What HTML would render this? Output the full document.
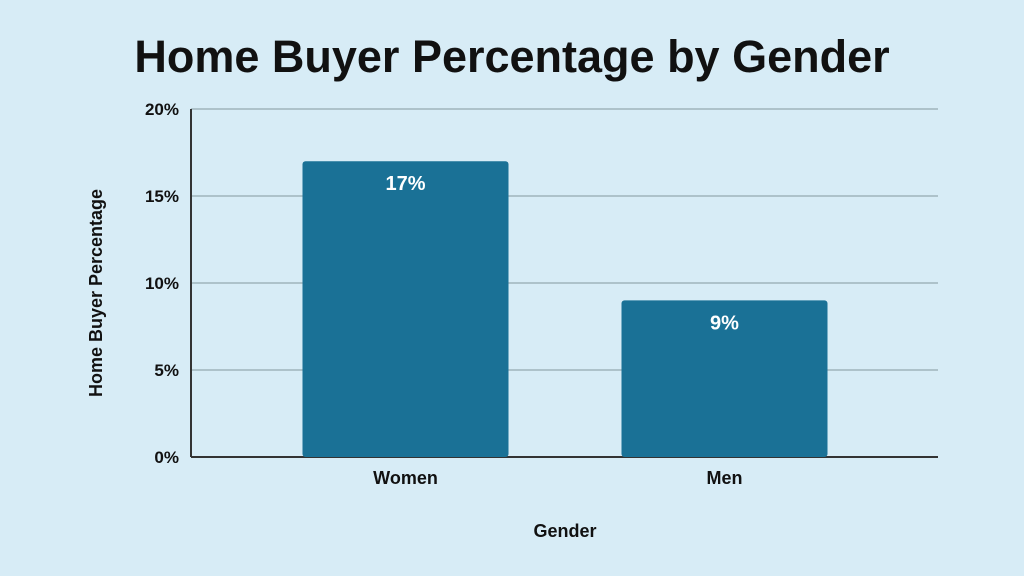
<!DOCTYPE html>
<html><head><meta charset="utf-8"><style>
body{margin:0;background:#d7ecf6;}
svg{display:block;font-family:"Liberation Sans",sans-serif;}
</style></head><body>
<svg width="1024" height="576" viewBox="0 0 1024 576">
<rect width="1024" height="576" fill="#d7ecf6"/>
<text x="512" y="72" text-anchor="middle" font-size="45" font-weight="bold" fill="#111">Home Buyer Percentage by Gender</text>
<g id="grid"></g><g id="bars"></g>
<text x="565" y="537" text-anchor="middle" font-size="18" font-weight="bold" fill="#111">Gender</text>
<text transform="translate(102,293) rotate(-90)" text-anchor="middle" font-size="18" font-weight="bold" fill="#111">Home Buyer Percentage</text>
</svg>
<script>
const categories=["Women","Men"];
const values=[17,9];
const ticks=[0,5,10,15,20];
const tickLabels=["0%","5%","10%","15%","20%"];
const NS="http://www.w3.org/2000/svg";
const x0=191,x1=938,y0=457,y1=109,maxV=20;
const bx0=246,bx1=884;
const y=v=>y0-(v/maxV)*(y0-y1);
const band=(bx1-bx0)/categories.length;
function mk(t,a,p){const e=document.createElementNS(NS,t);for(const k in a)e.setAttribute(k,a[k]);p.appendChild(e);return e;}
const g=document.getElementById('grid'),b=document.getElementById('bars');
ticks.forEach((t,i)=>{
 if(t>0){const l=mk('line',{x1:x0,x2:x1,y1:y(t),y2:y(t),stroke:'#9fb3bb','stroke-width':1.5},g);
 
 }
 const tx=mk('text',{x:179,y:y(t)+6,'text-anchor':'end','font-size':17,'font-weight':'bold',fill:'#111'},g);
 tx.textContent=tickLabels[i];
 
 
});
const ax=mk('line',{x1:x0,x2:x0,y1:y1,y2:y0,stroke:'#333','stroke-width':2},g);


const bx=mk('line',{x1:x0,x2:x1,y1:y0,y2:y0,stroke:'#333','stroke-width':2},g);


categories.forEach((c,i)=>{
 const cx=bx0+band*(i+0.5),w=206;
 const r=mk('rect',{x:cx-w/2,y:y(values[i]),width:w,height:y0-y(values[i]),rx:3,fill:'#1a7196'},b);
 
 
 const v=mk('text',{x:cx,y:y(values[i])+29,'text-anchor':'middle','font-size':20,'font-weight':'bold',fill:'#fff'},b);
 v.textContent=values[i]+'%';
 
 
 const l=mk('text',{x:cx,y:484,'text-anchor':'middle','font-size':18,'font-weight':'bold',fill:'#111'},b);
 l.textContent=c;
 
 
});
</script>
</body></html>
